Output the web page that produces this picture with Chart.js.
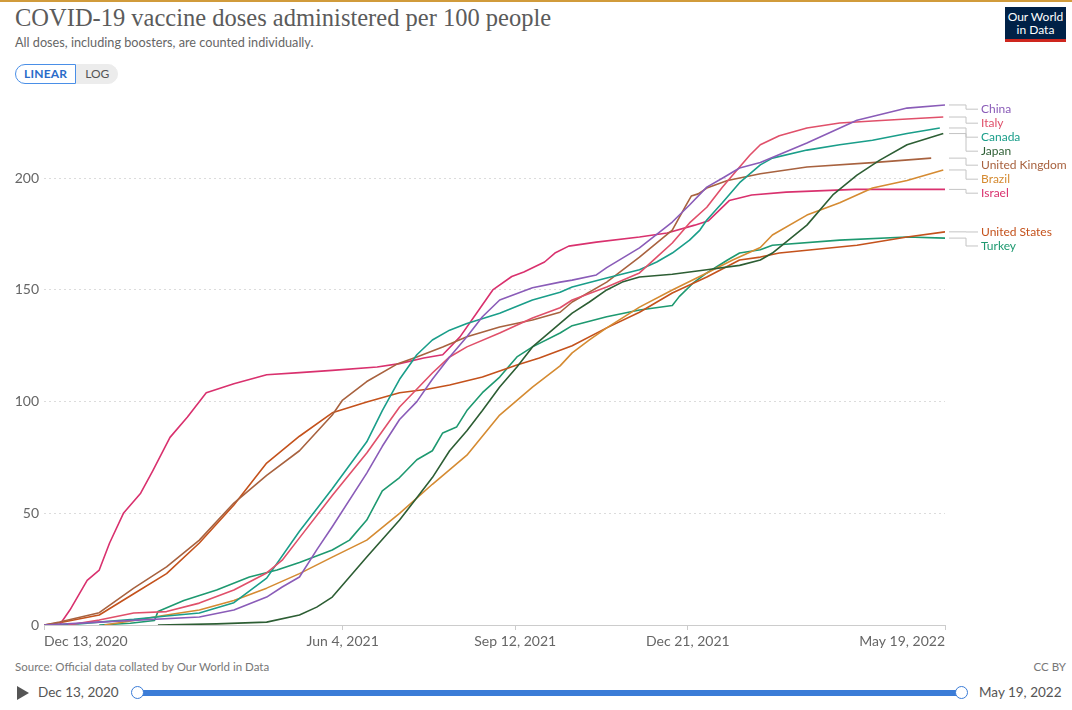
<!DOCTYPE html>
<html>
<head>
<meta charset="utf-8">
<script src="https://cdn.jsdelivr.net/npm/chart.js@4.4.1/dist/chart.umd.min.js"></script>
<style>
  body { margin: 0; width: 1072px; height: 710px; background: #fff; font-family: Lato, sans-serif; position: relative; overflow: hidden; }
  #topbar { position: absolute; left: 0; top: 0; width: 1072px; height: 2px; background: #d19b3b; }
  h1 { position: absolute; left: 15px; top: 4px; margin: 0; font: normal 24.5px "Liberation Serif", serif; color: #5b5b5b; white-space: nowrap; }
  #sub { position: absolute; left: 15px; top: 34px; font-size: 12.7px; color: #666; white-space: nowrap; }
  #toggle { position: absolute; left: 15px; top: 64px; height: 20px; display: flex; font-size: 12px; }
  #toggle span { display: block; height: 18px; line-height: 18px; padding: 0 8px; }
  #lin { border: 1px solid #4a8fe7; border-radius: 10px 0 0 10px; color: #2a6cc9; font-weight: bold; letter-spacing: 0.2px; }
  #log { background: #ececec; border: 1px solid #ececec; border-radius: 0 10px 10px 0; color: #555; }
  #logo { position: absolute; left: 1005px; top: 7px; width: 61px; height: 29px; background: #002147; border-bottom: 3px solid #ce261e; color: #fff; font-size: 12px; line-height: 13px; text-align: center; padding-top: 3px; }
  #wrap { position: absolute; left: 0; top: 90px; width: 1072px; height: 560px; }
  #src { position: absolute; left: 15px; top: 660px; font-size: 11.5px; color: #777; }
  #cc { position: absolute; right: 6px; top: 660px; font-size: 11.5px; color: #777; }
  #play { position: absolute; left: 17px; top: 686px; width: 0; height: 0; border-top: 7px solid transparent; border-bottom: 7px solid transparent; border-left: 12px solid #555; }
  .tdate { position: absolute; top: 684px; font-size: 13.5px; color: #555; }
  #bar { position: absolute; left: 138px; top: 690px; width: 824px; height: 6px; background: #3b7cd7; border-radius: 3px; }
  .handle { position: absolute; top: 686px; width: 11px; height: 11px; border: 1.5px solid #3b7cd7; background: #fff; border-radius: 50%; }
</style>
</head>
<body>
<div id="topbar"></div>
<h1>COVID-19 vaccine doses administered per 100 people</h1>
<div id="sub">All doses, including boosters, are counted individually.</div>
<div id="toggle"><span id="lin">LINEAR</span><span id="log">LOG</span></div>
<div id="logo">Our World<br>in Data</div>
<div id="wrap"><canvas id="chart" width="1072" height="560"></canvas></div>
<div id="src">Source: Official data collated by Our World in Data</div>
<div id="cc">CC BY</div>
<div id="play"></div>
<div class="tdate" style="left:38px">Dec 13, 2020</div>
<div id="bar"></div>
<div class="handle" style="left:131px"></div>
<div class="handle" style="left:955px"></div>
<div class="tdate" style="left:979px">May 19, 2022</div>
<script>
// x = days since Dec 13, 2020, y = doses per 100 people
const countries = ['China', 'Italy', 'Canada', 'Japan', 'United Kingdom', 'Brazil', 'Israel', 'United States', 'Turkey'];
const colors = ['#8a5cb8', '#e0506a', '#1a9e8a', '#2d5e34', '#a8623f', '#d58b32', '#d9316e', '#c4521c', '#1e9970'];

const china = [[0,0],[32,1.3],[90,3.6],[110,6.7],[129,12.5],[138,17],[148,21.5],[158,33.6],[167,44],[187,68],[196,80],[206,92],[216,100],[225,110],[235,120],[245,129],[254,138],[264,145.5],[283,151],[299,153.5],[306,154.4],[320,156.7],[326,160],[345,168.8],[364,180.4],[374,188],[384,196],[393,200],[403,204.6],[415,207],[442,215.8],[471,226],[500,231.4],[522,232.8]];
const italy = [[14,0],[32,2.2],[52,5.4],[71,6],[90,9.8],[110,15.7],[129,23.3],[138,29],[148,39],[167,58],[187,77],[206,97.6],[225,112.8],[235,120],[245,124.5],[264,130.7],[283,137.4],[299,142],[306,145.5],[326,151.3],[345,157.6],[355,164.7],[364,171],[374,180],[384,187],[393,196],[403,205],[409,210.4],[415,215],[426,219],[442,222.5],[461,224.7],[480,225.6],[500,226.5],[521,227.4]];
const canada = [[1,0],[20,0.5],[32,1.3],[52,2.5],[71,4],[90,5.4],[110,10],[129,21],[148,42],[167,61],[187,82],[196,96],[206,110],[216,121],[225,127.6],[235,132],[245,135],[264,139.6],[283,145.5],[299,149],[306,151.3],[326,155.3],[345,159],[355,162.5],[364,166.5],[374,172.3],[380,176.8],[384,181.3],[393,189],[403,198],[415,206],[422,209],[442,212.6],[461,215],[480,217],[500,220],[519,222.5]];
const japan = [[66,0],[100,0.5],[129,1.3],[148,4.5],[158,8],[167,12.5],[177,21.5],[187,30.4],[206,47],[216,57],[225,66],[235,78],[245,87],[254,96],[264,106.5],[274,115.5],[283,124.5],[299,135],[306,139.6],[316,144.6],[326,150],[335,153.5],[345,155.8],[364,157],[384,159],[403,161],[415,163.4],[422,166.5],[442,179],[457,192.5],[471,201.4],[484,208],[500,215],[521,220]];
const uk = [[0,0],[9,1.3],[32,5.5],[52,16.5],[71,26],[90,38],[110,54.6],[129,67],[148,78],[167,94],[173,100.7],[187,109],[205,117],[216,120],[231,124.5],[245,129],[264,133.4],[283,136.5],[299,140],[306,144.6],[326,153.5],[345,164.7],[364,176.8],[372,188],[375,192],[379,193],[384,195.6],[396,199],[415,202],[442,205],[480,207],[514,209]];
const brazil = [[35,0],[52,2],[71,4.5],[90,6.7],[110,11],[129,16.5],[148,23],[167,30.4],[187,38],[206,50],[225,63],[245,76],[264,94],[283,106.5],[299,116],[306,121.8],[316,127.6],[326,133],[345,142.3],[364,150],[384,157.6],[399,163.4],[415,169],[422,174.6],[442,183.5],[461,189],[480,195.6],[500,199],[521,203.7]];
const israel = [[9,0],[15,6.7],[25,20],[32,24.6],[38,36.7],[46,50],[56,59],[63,69],[73,84],[83,93],[94,104],[110,108],[129,112],[148,113],[167,114],[193,115.5],[206,117],[220,119.5],[231,121],[241,129],[251,140],[260,150],[271,156],[278,158],[290,162.5],[296,166.5],[304,169.6],[320,171.4],[345,173.7],[361,175.5],[377,179],[385,181],[397,190],[410,192.5],[430,193.8],[470,195],[522,195]];
const usa = [[0,0],[9,1],[32,4.5],[52,14],[71,23],[90,36.7],[110,53.7],[129,72.5],[148,84.5],[167,95],[187,99.8],[206,104],[222,105.5],[235,107.4],[254,111],[274,116.4],[287,119.5],[306,125],[326,133],[345,140],[364,148.6],[384,155.8],[403,163.4],[415,164.7],[426,166.5],[471,170],[500,173.7],[522,176]];
const turkey = [[32,0],[50,0.8],[64,2],[66,6],[81,11],[100,15.7],[119,21.5],[135,24.6],[148,28],[167,33.6],[177,38],[187,47],[196,60],[206,66],[216,74],[225,78],[231,86],[239,88.6],[245,96],[254,104],[264,111],[274,120],[283,124.5],[299,130.7],[306,134],[326,138],[345,141],[364,143],[368,147],[376,153],[384,157.6],[396,163.4],[403,166.5],[415,168],[422,170],[461,172.3],[500,173.7],[522,173.2]];
const series = [china, italy, canada, japan, uk, brazil, israel, usa, turkey];

const xTicks = [0, 173, 273, 373, 522];
const xTickLabels = ['Dec 13, 2020', 'Jun 4, 2021', 'Sep 12, 2021', 'Dec 21, 2021', 'May 19, 2022'];
const yTicks = [0, 50, 100, 150, 200];

const endLabels = {
  id: 'endLabels',
  afterDraw(chart) {
    const { ctx, scales: { x, y } } = chart;
    const items = chart.data.datasets.map(ds => {
      const last = ds.data[ds.data.length - 1];
      return { name: ds.label, color: ds.borderColor, y: y.getPixelForValue(last.y) };
    }).sort((a, b) => a.y - b.y);
    const gap = 14;
    let groups = items.map(it => ({ members: [it] }));
    const place = g => {
      const n = g.members.length;
      g.top = (g.members[0].y + g.members[n - 1].y) / 2 - (n - 1) * gap / 2 + 4;
    };
    groups.forEach(place);
    let merged = true;
    while (merged) {
      merged = false;
      for (let i = 0; i < groups.length - 1; i++) {
        const a = groups[i], b = groups[i + 1];
        if (a.top + a.members.length * gap + 5 > b.top) {
          a.members = a.members.concat(b.members);
          groups.splice(i + 1, 1);
          place(a);
          merged = true;
          break;
        }
      }
    }
    ctx.save();
    ctx.font = '12px Lato';
    ctx.textBaseline = 'middle';
    ctx.lineWidth = 1;
    groups.forEach(g => {
      g.members.forEach((it, k) => {
        const ly = g.top + k * gap;
        ctx.strokeStyle = '#c4c4c4';
        ctx.beginPath();
        ctx.moveTo(x.right + 4, it.y);
        ctx.lineTo(966, it.y);
        ctx.lineTo(966, ly);
        ctx.lineTo(978, ly);
        ctx.stroke();
        ctx.fillStyle = it.color;
        ctx.fillText(it.name, 981, ly);
      });
    });
    ctx.restore();
  }
};

new Chart(document.getElementById('chart'), {
  type: 'line',
  data: {
    datasets: countries.map((name, i) => ({
      label: name,
      data: series[i].map(p => ({ x: p[0], y: p[1] })),
      borderColor: colors[i],
      borderWidth: 1.6,
      pointRadius: 0,
      tension: 0,
      borderJoinStyle: 'round'
    }))
  },
  options: {
    responsive: false,
    animation: false,
    devicePixelRatio: 1,
    layout: { padding: { top: 7, right: 127, left: 0, bottom: 0 } },
    plugins: { legend: { display: false }, tooltip: { enabled: false } },
    scales: {
      x: {
        type: 'linear', min: 0, max: 522,
        afterBuildTicks: s => { s.ticks = xTicks.map(v => ({ value: v })); },
        afterFit: s => { s.height = 25; },
        ticks: { align: 'inner', autoSkip: false, maxRotation: 0, padding: 3, color: '#666', font: { family: 'Lato', size: 14 },
          callback: (v, i) => xTickLabels[i] },
        grid: { drawOnChartArea: false, drawTicks: true, tickLength: 5, color: '#ccc' },
        border: { display: true, color: '#ccc' }
      },
      y: {
        min: 0, max: 233.5,
        afterBuildTicks: s => { s.ticks = yTicks.map(v => ({ value: v })); },
        afterFit: s => { s.width = 44; },
        ticks: { padding: 5, color: '#666', font: { family: 'Lato', size: 14 } },
        grid: { color: '#dcdcdc', drawTicks: false },
        border: { display: false, dash: [2, 3] }
      }
    }
  },
  plugins: [endLabels]
});
</script>
</body>
</html>
